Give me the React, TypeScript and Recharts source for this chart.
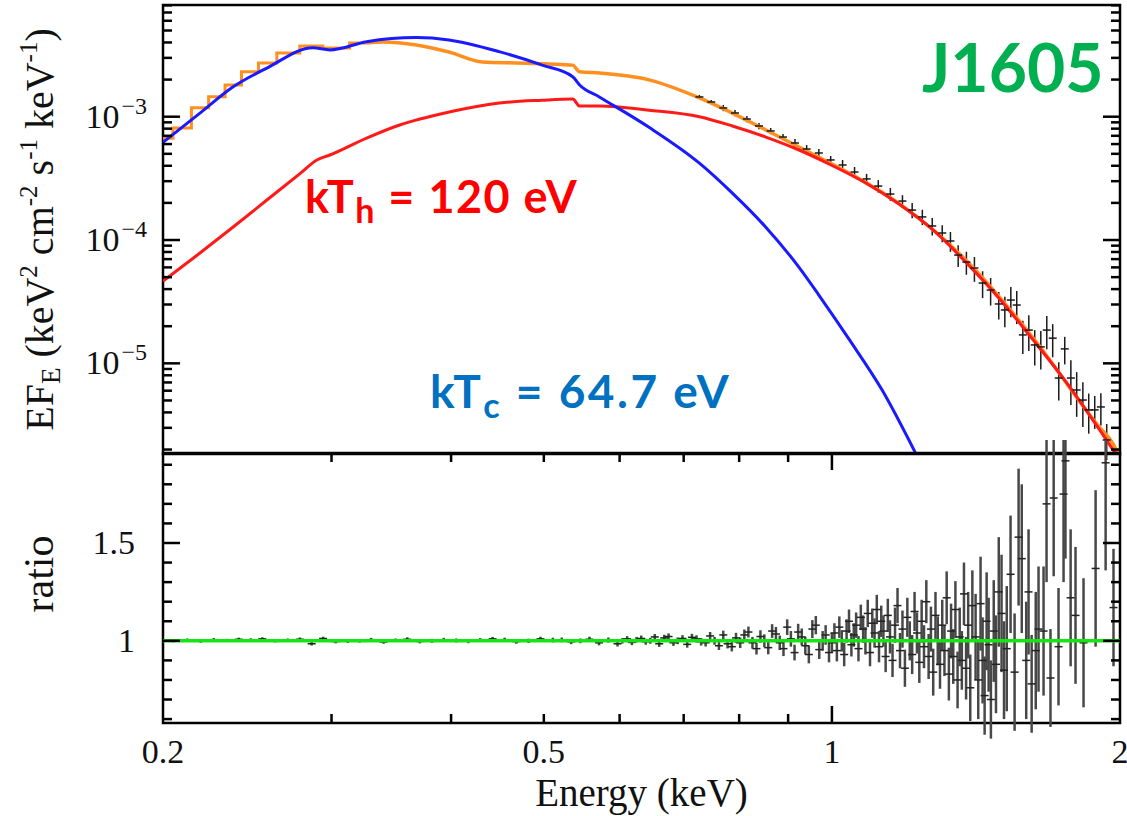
import { ComposedChart, Line, Scatter, XAxis, YAxis, ErrorBar, ReferenceArea } from 'recharts'

type Pt = [number, number]
type ErrPt = [number, number, number]

// Model components, [energy (keV), E·F_E]
const coolBB: Pt[] = [
  [0.2, 6.2e-4], [0.2186, 1.07e-3], [0.2366, 1.74e-3], [0.2568, 2.48e-3], [0.2868, 3.63e-3],
  [0.2988, 3.48e-3], [0.3264, 4.06e-3], [0.368, 4.38e-3], [0.398, 4.19e-3], [0.449, 3.37e-3],
  [0.498, 2.62e-3], [0.536, 2.11e-3], [0.545, 1.81e-3], [0.572, 1.44e-3], [0.644, 8.2e-4],
  [0.727, 4.2e-4], [0.787, 2.4e-4], [0.853, 1.27e-4], [0.924, 6.0e-5], [0.969, 3.58e-5],
  [1.042, 1.57e-5], [1.128, 6.1e-6], [1.223, 1.87e-6], [1.293, 7.8e-7],
]

const hotBB: Pt[] = [
  [0.2, 4.65e-5], [0.2186, 7.85e-5], [0.2366, 1.27e-4], [0.2568, 2.11e-4], [0.2785, 3.49e-4],
  [0.2896, 4.46e-4], [0.2988, 4.89e-4], [0.3264, 6.71e-4], [0.3534, 8.57e-4], [0.398, 1.09e-3],
  [0.449, 1.29e-3], [0.498, 1.36e-3], [0.536, 1.39e-3], [0.545, 1.22e-3], [0.572, 1.22e-3],
  [0.644, 1.13e-3], [0.727, 1.0e-3], [0.787, 8.41e-4], [0.853, 6.84e-4], [0.924, 5.37e-4],
  [0.998, 4.06e-4], [1.085, 2.9e-4], [1.175, 1.96e-4], [1.272, 1.23e-4], [1.38, 6.62e-5],
  [1.494, 3.39e-5], [1.617, 1.6e-5], [1.754, 7.18e-6], [1.899, 2.98e-6], [2.0, 1.64e-6],
]

// total model: binned (stepped) at the soft end, then smooth
const totalSoft: Pt[] = [
  [0.2, 6.7e-4], [0.2098, 8.1e-4], [0.2186, 1.18e-3], [0.2279, 1.45e-3], [0.2366, 1.81e-3],
  [0.2466, 2.31e-3], [0.2568, 2.73e-3], [0.2694, 3.29e-3], [0.2868, 3.74e-3], [0.3008, 3.61e-3],
  [0.3264, 3.96e-3],
]

const totalHard: Pt[] = [
  [0.3264, 3.96e-3], [0.3392, 4.04e-3], [0.368, 3.82e-3], [0.398, 3.35e-3], [0.4315, 2.78e-3],
  [0.468, 2.73e-3], [0.5066, 2.68e-3], [0.536, 2.62e-3], [0.545, 2.31e-3], [0.572, 2.26e-3],
  [0.644, 1.99e-3], [0.727, 1.42e-3], [0.787, 1.07e-3], [0.853, 7.8e-4], [0.924, 5.68e-4],
  [1.042, 3.49e-4], [1.175, 1.98e-4], [1.38, 6.89e-5], [1.617, 1.66e-5], [1.899, 3.1e-6],
  [1.968, 2.21e-6], [2.0, 1.7e-6],
]

// Spectrum, [energy, E·F_E, error]
const spectrum: ErrPt[] = [
  [0.727, 1.446e-3, 5.5e-5], [0.748, 1.316e-3, 5.0e-5], [0.77, 1.177e-3, 6.8e-5], [0.792, 1.072e-3, 6.2e-5],
  [0.815, 9.58e-4, 5.6e-5], [0.839, 8.41e-4, 4.9e-5], [0.863, 7.66e-4, 4.4e-5], [0.889, 6.84e-4, 4.0e-5],
  [0.915, 6.12e-4, 4.7e-5], [0.941, 5.47e-4, 4.2e-5], [0.969, 5.08e-4, 3.9e-5], [0.997, 4.46e-4, 3.4e-5],
  [1.026, 4.06e-4, 4.0e-5], [1.056, 3.56e-4, 3.5e-5], [1.087, 3.13e-4, 3.1e-5], [1.118, 2.74e-4, 3.2e-5],
  [1.151, 2.36e-4, 2.8e-5], [1.185, 2.07e-4, 2.4e-5], [1.213, 1.75e-4, 2.5e-5], [1.243, 1.54e-4, 2.2e-5],
  [1.273, 1.3e-4, 2.1e-5], [1.304, 1.14e-4, 1.8e-5], [1.33, 9.82e-5, 1.8e-5], [1.355, 7.55e-5, 1.5e-5],
  [1.382, 6.63e-5, 1.4e-5], [1.409, 5.93e-5, 1.35e-5], [1.437, 4.48e-5, 1.1e-5], [1.465, 3.93e-5, 9.9e-6],
  [1.494, 3.03e-5, 7.6e-6], [1.516, 2.71e-5, 7.5e-6], [1.538, 3.26e-5, 9.0e-6], [1.56, 2.97e-5, 8.9e-6],
  [1.583, 1.7e-5, 5.1e-6], [1.606, 1.86e-5, 6.0e-6], [1.629, 1.41e-5, 4.5e-6], [1.653, 1.36e-5, 4.7e-6],
  [1.677, 1.86e-5, 5.6e-6], [1.701, 1.6e-5, 4.8e-6], [1.726, 7.6e-6, 2.6e-6], [1.751, 1.31e-5, 3.3e-6],
  [1.777, 7.6e-6, 3.0e-6], [1.802, 6.08e-6, 2.4e-6], [1.829, 5.04e-6, 2.0e-6], [1.855, 4.19e-6, 1.5e-6],
  [1.882, 4.19e-6, 1.25e-6], [1.91, 4.43e-6, 1.3e-6], [1.937, 2.39e-6, 8.3e-7],
]

// Data/model ratio, [energy, ratio, error]
const ratioSoft: ErrPt[] = [
  [0.205, 1.0, 0.008], [0.212, 1.004, 0.008], [0.219, 0.998, 0.008], [0.226, 1.006, 0.008],
  [0.233, 1.002, 0.008], [0.24, 1.008, 0.008], [0.247, 1.005, 0.008], [0.254, 1.01, 0.008],
  [0.262, 1.0, 0.008], [0.27, 1.004, 0.008], [0.278, 1.008, 0.009], [0.286, 0.985, 0.009],
  [0.294, 1.012, 0.009], [0.303, 0.996, 0.009], [0.312, 0.998, 0.009], [0.321, 1.0, 0.009],
  [0.33, 1.006, 0.009], [0.34, 0.994, 0.009], [0.35, 1.003, 0.009], [0.36, 1.008, 0.01],
  [0.371, 0.997, 0.01], [0.382, 1.0, 0.01], [0.393, 1.005, 0.01], [0.405, 1.002, 0.01],
  [0.417, 0.998, 0.01], [0.429, 1.004, 0.01], [0.442, 1.01, 0.01], [0.455, 1.006, 0.01],
  [0.468, 0.996, 0.011], [0.482, 1.0, 0.011], [0.496, 1.01, 0.011], [0.511, 1.004, 0.012],
]

const ratioMid: ErrPt[] = [
  [0.522, 1.005, 0.012], [0.534, 0.995, 0.012], [0.546, 1.0, 0.012], [0.558, 1.008, 0.013],
  [0.571, 0.99, 0.013], [0.584, 1.004, 0.013], [0.597, 0.985, 0.014], [0.604, 1.0, 0.014],
  [0.611, 1.01, 0.014], [0.618, 0.992, 0.014], [0.625, 1.006, 0.014], [0.632, 1.012, 0.015],
  [0.639, 0.995, 0.015], [0.646, 1.0, 0.015], [0.653, 1.02, 0.015], [0.66, 0.985, 0.016],
  [0.668, 1.015, 0.016], [0.675, 1.022, 0.016], [0.683, 0.99, 0.016], [0.69, 1.0, 0.017],
  [0.698, 1.012, 0.017], [0.706, 0.982, 0.017], [0.714, 1.018, 0.018], [0.722, 1.01, 0.018],
  [0.73, 0.995, 0.019], [0.738, 0.99, 0.019], [0.746, 1.025, 0.02], [0.754, 1.0, 0.02],
  [0.762, 0.975, 0.022], [0.77, 1.03, 0.022], [0.778, 0.985, 0.024], [0.786, 0.97, 0.024],
  [0.794, 1.015, 0.026], [0.802, 0.99, 0.027], [0.81, 1.03, 0.028], [0.818, 1.045, 0.028],
  [0.826, 0.99, 0.03], [0.834, 0.96, 0.03], [0.842, 1.022, 0.032], [0.85, 1.0, 0.033],
  [0.858, 0.965, 0.034], [0.866, 1.05, 0.035], [0.874, 1.035, 0.036], [0.882, 0.99, 0.037],
  [0.89, 0.96, 0.038], [0.898, 1.07, 0.04], [0.906, 1.01, 0.04], [0.914, 0.94, 0.04],
  [0.922, 1.045, 0.042], [0.93, 1.02, 0.043], [0.938, 0.975, 0.044], [0.946, 0.93, 0.045],
  [0.954, 1.06, 0.046], [0.962, 1.08, 0.047], [0.97, 0.955, 0.048], [0.978, 1.0, 0.05],
  [0.985, 1.03, 0.05], [0.993, 0.94, 0.05],
]

const ratioHard: ErrPt[] = [
  [1.0, 0.99, 0.05], [1.006, 1.04, 0.05], [1.012, 0.95, 0.055], [1.018, 1.07, 0.055],
  [1.024, 1.0, 0.055], [1.03, 0.93, 0.06], [1.036, 1.05, 0.06], [1.042, 1.1, 0.06],
  [1.048, 0.98, 0.06], [1.054, 1.03, 0.06], [1.06, 1.08, 0.065], [1.066, 0.96, 0.065],
  [1.072, 1.12, 0.065], [1.078, 1.06, 0.07], [1.084, 1.0, 0.07], [1.09, 1.14, 0.07],
  [1.096, 0.94, 0.07], [1.102, 1.09, 0.075], [1.108, 1.04, 0.075], [1.114, 1.16, 0.075],
  [1.12, 0.97, 0.08], [1.126, 1.1, 0.08], [1.132, 1.05, 0.08], [1.138, 0.92, 0.08],
  [1.144, 1.13, 0.085], [1.15, 1.02, 0.085], [1.157, 0.9, 0.085], [1.164, 1.08, 0.09],
  [1.171, 1.18, 0.09], [1.178, 0.95, 0.09], [1.185, 1.06, 0.095], [1.192, 0.86, 0.095],
  [1.199, 1.12, 0.1], [1.206, 1.0, 0.1], [1.213, 0.93, 0.1], [1.22, 1.15, 0.1],
  [1.227, 1.04, 0.105], [1.234, 0.89, 0.105], [1.241, 1.1, 0.11], [1.248, 0.97, 0.11],
  [1.255, 1.2, 0.11], [1.262, 0.92, 0.115], [1.269, 1.06, 0.115], [1.276, 0.84, 0.12],
  [1.283, 1.13, 0.12], [1.29, 1.0, 0.125], [1.297, 0.88, 0.125], [1.304, 1.08, 0.13],
  [1.311, 0.95, 0.13], [1.318, 1.22, 0.135], [1.325, 0.83, 0.135], [1.332, 1.05, 0.14],
  [1.339, 0.92, 0.14], [1.346, 1.16, 0.145], [1.353, 0.8, 0.145], [1.36, 1.02, 0.15],
  [1.367, 0.9, 0.15], [1.374, 1.24, 0.16], [1.381, 0.86, 0.16], [1.388, 1.08, 0.17],
  [1.395, 0.76, 0.17], [1.402, 1.18, 0.18],
]

const ratioTail: ErrPt[] = [
  [1.413, 1.02, 0.22], [1.422, 0.8, 0.2], [1.43, 1.19, 0.24], [1.437, 0.9, 0.22],
  [1.444, 0.72, 0.2], [1.451, 1.1, 0.25], [1.458, 0.98, 0.24], [1.466, 0.7, 0.2],
  [1.476, 1.05, 0.26], [1.484, 0.88, 0.25], [1.494, 1.25, 0.28], [1.504, 1.14, 0.3],
  [1.513, 0.85, 0.25], [1.523, 0.96, 0.32], [1.537, 1.34, 0.3], [1.552, 0.84, 0.3],
  [1.567, 1.53, 0.35], [1.579, 1.42, 0.38], [1.596, 0.9, 0.3], [1.605, 1.25, 0.32],
  [1.617, 0.78, 0.25], [1.633, 0.95, 0.3], [1.644, 1.06, 0.32], [1.664, 1.05, 0.33],
  [1.676, 1.7, 0.4], [1.692, 0.81, 0.25], [1.705, 1.73, 0.4], [1.725, 0.97, 0.3],
  [1.746, 1.75, 0.45], [1.754, 1.92, 0.5], [1.776, 1.22, 0.35], [1.797, 1.13, 0.35],
  [1.832, 0.99, 0.33], [1.886, 1.37, 0.4], [1.932, 1.91, 0.55], [1.969, 1.17, 0.3],
]

const unity: Pt[] = [[0.2, 1], [2, 1]]

const energyTicks = [0.2, 0.3, 0.4, 0.5, 0.6, 0.7, 0.8, 0.9, 1, 2]
const energyLabels = [0.2, 0.5, 1, 2]
const fluxTicks = [
  2e-6, 3e-6, 4e-6, 5e-6, 6e-6, 7e-6, 8e-6, 9e-6, 1e-5,
  2e-5, 3e-5, 4e-5, 5e-5, 6e-5, 7e-5, 8e-5, 9e-5, 1e-4,
  2e-4, 3e-4, 4e-4, 5e-4, 6e-4, 7e-4, 8e-4, 9e-4, 1e-3,
  2e-3, 3e-3, 4e-3, 5e-3, 6e-3, 7e-3, 8e-3,
]
const fluxDecades = [1e-5, 1e-4, 1e-3]
const ratioTicks = [0.6, 0.7, 0.8, 0.9, 1, 1.1, 1.2, 1.3, 1.4, 1.5, 1.6, 1.7, 1.8, 1.9]
const ratioLabels = [1, 1.5]

const WIDTH = 1127
const PLOT_W = 957
const TOP_PLOT_H = 449
const BOTTOM_PLOT_H = 270
const ENERGY_DOMAIN: [number, number] = [0.2, 2]
const FLUX_DOMAIN: [number, number] = [1.84e-6, 8.05e-3]
const RATIO_DOMAIN: [number, number] = [0.58, 1.96]

const SERIF = '"Liberation Serif", "Times New Roman", serif'
const SANS = 'Lato, "Open Sans", sans-serif'
const INK = '#111'
const BLUE = '#1a1aff'
const RED = '#ff1a1a'
const ORANGE = '#ff8f1f'
const GREEN = '#14e614'

const curveRows = (pts: Pt[]) => pts.map(([E, v]) => ({ E, v }))
const errRows = (pts: ErrPt[]) => pts.map(([E, v, e]) => ({ E, v, e }))

const spectrumRows = errRows(spectrum)
const ratioRows = errRows([...ratioSoft, ...ratioMid, ...ratioHard, ...ratioTail])

interface TickProps {
  x?: number
  y?: number
  payload?: { value: number }
}

interface TitleProps {
  viewBox?: { x: number; y: number; width: number; height: number }
}

// inward ticks on the bottom edge, mirrored onto the top edge
const energyTick = (plotH: number, withLabels: boolean) =>
  function EnergyTick({ x = 0, y = 0, payload }: TickProps) {
    const v = payload?.value ?? 0
    const edge = v <= 0.2 || v >= 2
    const len = v === 1 ? 17 : 9
    return (
      <g>
        {!edge && <line x1={x} x2={x} y1={y} y2={y - len} stroke="#000" strokeWidth={2.5} />}
        {!edge && <line x1={x} x2={x} y1={y - plotH} y2={y - plotH + len} stroke="#000" strokeWidth={2.5} />}
        {withLabels && energyLabels.includes(v) && (
          <text x={x} y={y + 40} textAnchor="middle" fontFamily={SERIF} fontSize={34} fill={INK}>
            {v}
          </text>
        )}
      </g>
    )
  }

const TopEnergyTick = energyTick(TOP_PLOT_H, false)
const BottomEnergyTick = energyTick(BOTTOM_PLOT_H, true)

function FluxTick({ x = 0, y = 0, payload }: TickProps) {
  const v = payload?.value ?? 0
  const decade = fluxDecades.includes(v)
  const len = decade ? 17 : 9
  return (
    <g>
      <line x1={x} x2={x + len} y1={y} y2={y} stroke="#000" strokeWidth={2.5} />
      <line x1={x + PLOT_W} x2={x + PLOT_W - len} y1={y} y2={y} stroke="#000" strokeWidth={2.5} />
      {decade && (
        <text x={x - 16} y={y + 11} textAnchor="end" fontFamily={SERIF} fontSize={34} fill={INK}>
          10
          <tspan dx={2} dy={-14} fontSize={24}>{`\u2212${Math.round(-Math.log10(v))}`}</tspan>
        </text>
      )}
    </g>
  )
}

function RatioTick({ x = 0, y = 0, payload }: TickProps) {
  const v = payload?.value ?? 0
  const major = ratioLabels.includes(v)
  const len = major ? 17 : 9
  return (
    <g>
      <line x1={x} x2={x + len} y1={y} y2={y} stroke="#000" strokeWidth={2.5} />
      <line x1={x + PLOT_W} x2={x + PLOT_W - len} y1={y} y2={y} stroke="#000" strokeWidth={2.5} />
      {major && (
        <text x={x - 28} y={y + 11} textAnchor="end" fontFamily={SERIF} fontSize={34} fill={INK}>
          {v}
        </text>
      )}
    </g>
  )
}

function FluxTitle({ viewBox }: TitleProps) {
  const vb = viewBox ?? { x: 103, y: 5, width: 60, height: TOP_PLOT_H }
  const bx = vb.x - 50
  const cy = vb.y + vb.height / 2
  return (
    <text transform={`rotate(-90 ${bx} ${cy})`} x={bx} y={cy} textAnchor="middle" fontFamily={SERIF} fontSize={40} fill={INK}>
      EF<tspan dy={7} fontSize={27}>E</tspan>
      <tspan dy={-7}> (keV</tspan>
      <tspan dy={-16} fontSize={25}>2</tspan>
      <tspan dy={16}> cm</tspan>
      <tspan dy={-16} fontSize={25}>-2</tspan>
      <tspan dy={16}> s</tspan>
      <tspan dy={-16} fontSize={25}>-1</tspan>
      <tspan dy={16}> keV</tspan>
      <tspan dy={-16} fontSize={25}>-1</tspan>
      <tspan dy={16}>)</tspan>
    </text>
  )
}

function RatioTitle({ viewBox }: TitleProps) {
  const vb = viewBox ?? { x: 103, y: 13, width: 60, height: BOTTOM_PLOT_H }
  const bx = vb.x - 50
  const cy = vb.y + vb.height / 2 - 14
  return (
    <text transform={`rotate(-90 ${bx} ${cy})`} x={bx} y={cy} textAnchor="middle" fontFamily={SERIF} fontSize={42} fill={INK}>
      ratio
    </text>
  )
}

function EnergyTitle({ viewBox }: TitleProps) {
  const vb = viewBox ?? { x: 163, y: 283, width: PLOT_W, height: 60 }
  return (
    <text x={vb.x + vb.width / 2} y={vb.y + 83} textAnchor="middle" fontFamily={SERIF} fontSize={39} fill={INK}>
      Energy (keV)
    </text>
  )
}

// data bin: short horizontal bar, the vertical part comes from ErrorBar
const binMark = (color: string, width: number) =>
  function BinMark(props: { cx?: number; cy?: number }) {
    const { cx = 0, cy = 0 } = props
    return <line x1={cx - 4} x2={cx + 4} y1={cy} y2={cy} stroke={color} strokeWidth={width} />
  }

const SpectrumMark = binMark('#1a1a1a', 1.5)
const RatioMark = binMark('#222', 1.5)

export default function App() {
  return (
    <div style={{ position: 'absolute', left: 0, top: 0, width: WIDTH, height: 816, background: '#fff' }}>
      <div style={{ position: 'absolute', left: 0, top: 0 }}>
        <ComposedChart width={WIDTH} height={460} margin={{ top: 5, right: 7, bottom: 6, left: 103 }}>
          <XAxis
            dataKey="E"
            type="number"
            scale="log"
            domain={ENERGY_DOMAIN}
            allowDataOverflow
            ticks={energyTicks}
            interval={0}
            height={0}
            tickSize={0}
            tickMargin={0}
            axisLine={false}
            tick={TopEnergyTick}
          />
          <YAxis
            type="number"
            scale="log"
            domain={FLUX_DOMAIN}
            allowDataOverflow
            ticks={fluxTicks}
            interval={0}
            width={60}
            tickSize={0}
            tickMargin={0}
            axisLine={false}
            tick={FluxTick}
            label={<FluxTitle />}
          />
          <ReferenceArea
            x1={ENERGY_DOMAIN[0]}
            x2={ENERGY_DOMAIN[1]}
            y1={FLUX_DOMAIN[0]}
            y2={FLUX_DOMAIN[1]}
            fill="none"
            stroke="#000"
            strokeWidth={2.5}
          />
          <Scatter data={spectrumRows} dataKey="v" shape={SpectrumMark} isAnimationActive={false}>
            <ErrorBar dataKey="e" direction="y" width={0} stroke="#1a1a1a" strokeWidth={1.5} />
          </Scatter>
          <Line data={curveRows(totalSoft)} dataKey="v" type="step" stroke={ORANGE} strokeWidth={3} dot={false} isAnimationActive={false} />
          <Line data={curveRows(totalHard)} dataKey="v" type="monotone" stroke={ORANGE} strokeWidth={3.5} dot={false} isAnimationActive={false} />
          <Line data={curveRows(hotBB)} dataKey="v" type="monotone" stroke={RED} strokeWidth={3} dot={false} isAnimationActive={false} />
          <Line data={curveRows(coolBB)} dataKey="v" type="monotone" stroke={BLUE} strokeWidth={3} dot={false} isAnimationActive={false} />
        </ComposedChart>
      </div>

      <div style={{ position: 'absolute', left: 0, top: 440 }}>
        <ComposedChart width={WIDTH} height={376} margin={{ top: 13, right: 7, bottom: 33, left: 103 }}>
          <XAxis
            dataKey="E"
            type="number"
            scale="log"
            domain={ENERGY_DOMAIN}
            allowDataOverflow
            ticks={energyTicks}
            interval={0}
            height={60}
            tickSize={0}
            tickMargin={0}
            axisLine={false}
            tick={BottomEnergyTick}
            label={<EnergyTitle />}
          />
          <YAxis
            type="number"
            domain={RATIO_DOMAIN}
            allowDataOverflow
            ticks={ratioTicks}
            interval={0}
            width={60}
            tickSize={0}
            tickMargin={0}
            axisLine={false}
            tick={RatioTick}
            label={<RatioTitle />}
          />
          <ReferenceArea
            x1={ENERGY_DOMAIN[0]}
            x2={ENERGY_DOMAIN[1]}
            y1={RATIO_DOMAIN[0]}
            y2={RATIO_DOMAIN[1]}
            fill="none"
            stroke="#000"
            strokeWidth={2.5}
          />
          <Scatter data={ratioRows} dataKey="v" shape={RatioMark} isAnimationActive={false}>
            <ErrorBar dataKey="e" direction="y" width={0} stroke="#484848" strokeWidth={2.5} />
          </Scatter>
          {/* unity line sits above the error bars */}
          <Line
            data={curveRows(unity)}
            dataKey="v"
            type="linear"
            stroke={GREEN}
            strokeWidth={3.5}
            dot={false}
            isAnimationActive={false}
            zIndex={800}
          />
        </ComposedChart>
      </div>

      <svg width={WIDTH} height={816} style={{ position: 'absolute', left: 0, top: 0, pointerEvents: 'none' }}>
        <text x={922} y={92} fontFamily={SANS} fontWeight={700} fontSize={66} fill="#00b050">
          J1605
        </text>
        <text x={305} y={213} fontFamily={SANS} fontWeight={700} fontSize={45} letterSpacing={1.5} fill="#ff0000">
          kT<tspan dy={10} fontSize={34}>h</tspan>
          <tspan dy={-10}> = 120 eV</tspan>
        </text>
        <text x={430} y={408} fontFamily={SANS} fontWeight={700} fontSize={46} letterSpacing={2.5} fill="#0070c0">
          kT<tspan dy={10} fontSize={34}>c</tspan>
          <tspan dy={-10}> = 64.7 eV</tspan>
        </text>
      </svg>
    </div>
  )
}
